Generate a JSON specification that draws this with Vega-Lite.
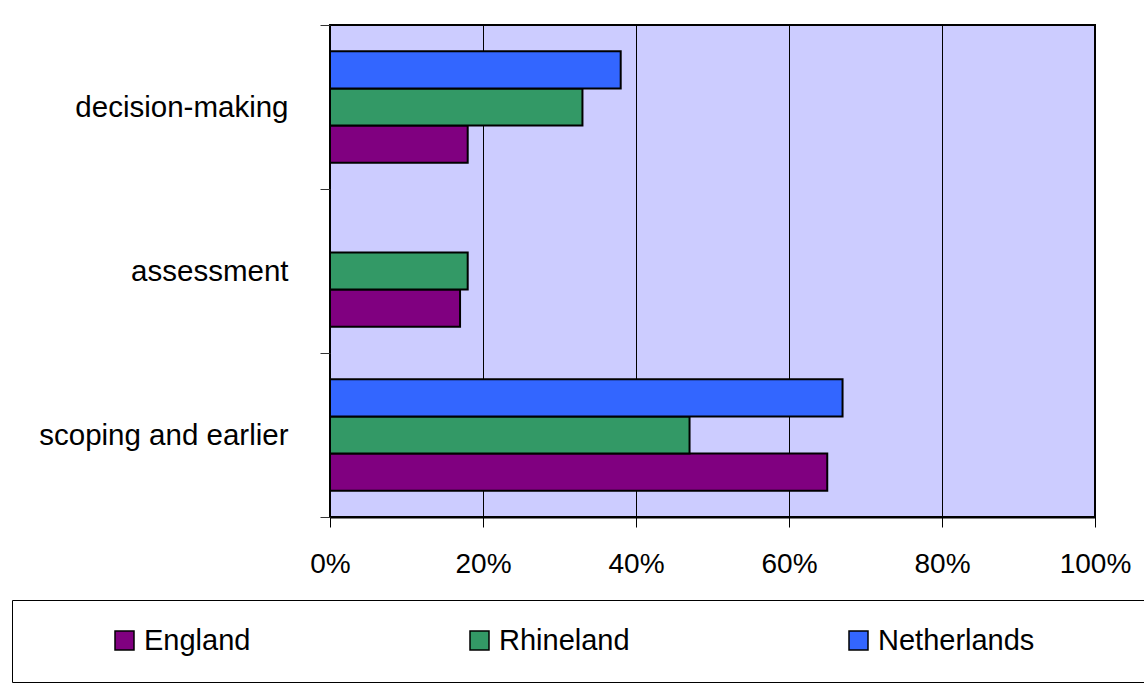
{
  "$schema": "https://vega.github.io/schema/vega-lite/v6.json",
  "width": 765,
  "height": 492,
  "autosize": {"type": "none"},
  "padding": {"left": 330, "top": 25, "right": 49, "bottom": 169},
  "background": "white",
  "config": {
    "font": "Liberation Sans",
    "view": {"fill": "#CCCCFF", "stroke": "black", "strokeWidth": 2}
  },
  "data": {
    "values": [
      {"stage": "decision-making", "region": "England", "share": 0.18},
      {"stage": "decision-making", "region": "Rhineland", "share": 0.33},
      {"stage": "decision-making", "region": "Netherlands", "share": 0.38},
      {"stage": "assessment", "region": "England", "share": 0.17},
      {"stage": "assessment", "region": "Rhineland", "share": 0.18},
      {"stage": "scoping and earlier", "region": "England", "share": 0.65},
      {"stage": "scoping and earlier", "region": "Rhineland", "share": 0.47},
      {"stage": "scoping and earlier", "region": "Netherlands", "share": 0.67}
    ]
  },
  "mark": {"type": "bar", "stroke": "black", "strokeWidth": 2, "opacity": 1},
  "encoding": {
    "x": {
      "field": "share",
      "type": "quantitative",
      "scale": {"domain": [0, 1], "nice": false},
      "axis": {
        "title": null,
        "format": ".0%",
        "values": [0, 0.2, 0.4, 0.6, 0.8, 1],
        "grid": true,
        "gridColor": "black",
        "gridOpacity": 1,
        "gridWidth": 1,
        "domain": true,
        "domainColor": "black",
        "domainWidth": 2,
        "tickColor": "black",
        "tickSize": 10,
        "tickWidth": 1,
        "labelFlush": false,
        "labelFontSize": 28,
        "labelColor": "black",
        "labelPadding": 23,
        "labelFont": "Liberation Sans"
      }
    },
    "y": {
      "field": "stage",
      "type": "nominal",
      "sort": ["decision-making", "assessment", "scoping and earlier"],
      "scale": {"paddingInner": 0, "paddingOuter": 0},
      "axis": {
        "title": null,
        "domain": false,
        "tickBand": "extent",
        "tickSize": 10,
        "tickColor": "#333333",
        "tickWidth": 1,
        "labelFontSize": 29.5,
        "labelColor": "black",
        "labelPadding": 32,
        "labelLimit": 500,
        "labelFont": "Liberation Sans"
      }
    },
    "yOffset": {
      "field": "region",
      "type": "nominal",
      "sort": ["Netherlands", "Rhineland", "England"],
      "scale": {"paddingInner": 0, "paddingOuter": 0.705}
    },
    "color": {
      "field": "region",
      "type": "nominal",
      "scale": {
        "domain": ["England", "Rhineland", "Netherlands"],
        "range": ["#800080", "#339966", "#3366FF"]
      },
      "legend": {
        "orient": "none",
        "legendX": -318,
        "legendY": 575,
        "direction": "horizontal",
        "columns": 3,
        "gridAlign": "none",
        "columnPadding": 142,
        "padding": 26,
        "strokeColor": "black",
        "fillColor": "white",
        "symbolType": "square",
        "symbolSize": 361,
        "symbolStrokeColor": "black",
        "symbolStrokeWidth": 1.5,
        "symbolOpacity": 1,
        "symbolOffset": 72,
        "labelFontSize": 29,
        "labelColor": "black",
        "labelOffset": 5,
        "labelFont": "Liberation Sans",
        "title": " ",
        "titleOrient": "right",
        "titlePadding": 85,
        "titleFontSize": 28
      }
    }
  }
}
